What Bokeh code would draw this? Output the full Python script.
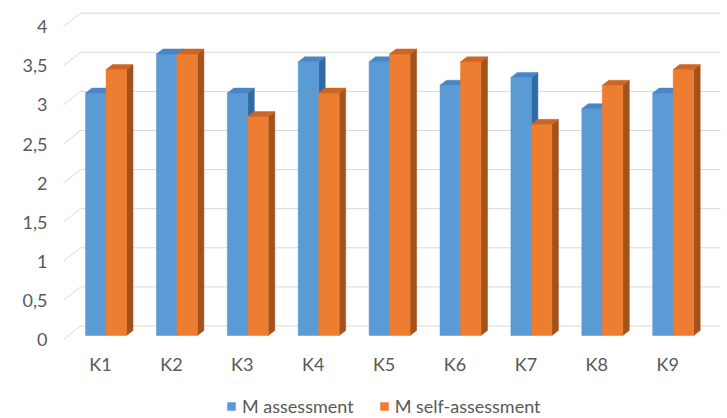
from bokeh.plotting import figure
from bokeh.models import ColumnDataSource, FixedTicker, Legend, LegendItem, Range1d
from bokeh.embed import file_html
from bokeh.resources import INLINE
from bokeh.core.properties import value

# ---- data ----
categories = ["K1", "K2", "K3", "K4", "K5", "K6", "K7", "K8", "K9"]
m_assessment = [3.1, 3.6, 3.1, 3.5, 3.5, 3.2, 3.3, 2.9, 3.1]
m_self_assessment = [3.4, 3.6, 2.8, 3.1, 3.6, 3.5, 2.7, 3.2, 3.4]
series_names = ["M assessment", "M self-assessment"]
y_ticks = [0, 0.5, 1, 1.5, 2, 2.5, 3, 3.5, 4]
y_tick_labels = ["0", "0,5", "1", "1,5", "2", "2,5", "3", "3,5", "4"]

# ---- geometry (pixels converted to data units) ----
W, H = 727, 418
LEFT = 58
PX_X = 70.9
PX_Y = 78.2
BAR_W = 20.5 / PX_X
FACE_DX = 5.5 / PX_X
FACE_DY = 4.0 / PX_Y
DEPTH_DX = 6.5 / PX_X
DEPTH_DY = 5.0 / PX_Y
WALL_DX = 17.0 / PX_X
WALL_DY = 13.5 / PX_Y
WALL_LEFT = -37.0 / PX_X
WALL_RIGHT = 620.0 / PX_X
X_START = -(100.0 - LEFT) / PX_X
X_END = X_START + (W - LEFT) / PX_X
Y_START = -(H - 339.0) / PX_Y
Y_END = Y_START + H / PX_Y
LABEL_Y = -24.0 / PX_Y

TEXT_COLOR = "#595959"
GRID_COLOR = "#D9D9D9"
FONT = "Lato"

colors = [
    {"front": "#5B9BD5", "side": "#2E6AA6", "top": "#4A86C5"},
    {"front": "#ED7D31", "side": "#A3521C", "top": "#CC6624"},
]

p = figure(width=W, height=H, output_backend="svg", toolbar_location=None,
           x_range=Range1d(X_START, X_END), y_range=Range1d(Y_START, Y_END),
           min_border_left=LEFT, min_border_right=0, min_border_top=0, min_border_bottom=0)
p.outline_line_color = None
p.xgrid.visible = False
p.ygrid.visible = False
p.xaxis.visible = False

yax = p.yaxis[0]
yax.ticker = FixedTicker(ticks=y_ticks)
yax.major_label_overrides = {t: l for t, l in zip(y_ticks, y_tick_labels)}
yax.axis_line_color = None
yax.major_tick_line_color = None
yax.minor_tick_line_color = None
yax.major_tick_out = 0
yax.major_tick_in = 0
yax.major_label_standoff = 11
yax.major_label_text_font = FONT
yax.major_label_text_font_size = "18px"
yax.major_label_text_color = TEXT_COLOR

# ---- walls / gridlines ----
back_x0 = [WALL_LEFT + WALL_DX] * len(y_ticks)
back_x1 = [WALL_RIGHT] * len(y_ticks)
back_y = [t + WALL_DY for t in y_ticks]
p.segment(x0=back_x0, y0=back_y, x1=back_x1, y1=back_y, line_color=GRID_COLOR, line_width=1)
side_x0 = [WALL_LEFT] * len(y_ticks)
p.segment(x0=side_x0, y0=y_ticks, x1=back_x0, y1=back_y, line_color=GRID_COLOR, line_width=1)

# ---- 3D bars ----
legend_items = []
for s, vals in enumerate([m_assessment, m_self_assessment]):
    lefts = [i + FACE_DX - BAR_W + s * BAR_W for i in range(len(categories))]
    rights = [l + BAR_W for l in lefts]
    base = FACE_DY
    tops = [v + FACE_DY for v in vals]
    side_xs = [[r, r, r + DEPTH_DX, r + DEPTH_DX] for r in rights]
    side_ys = [[base, t, t + DEPTH_DY, base + DEPTH_DY] for t in tops]
    p.patches(xs=side_xs, ys=side_ys, fill_color=colors[s]["side"],
              line_color=colors[s]["side"], line_width=0.5)
    front = p.quad(left=lefts, right=rights, bottom=[base] * len(vals), top=tops,
                   fill_color=colors[s]["front"], line_color=colors[s]["front"], line_width=0.5)
    top_xs = [[l, r, r + DEPTH_DX, l + DEPTH_DX] for l, r in zip(lefts, rights)]
    top_ys = [[t, t, t + DEPTH_DY, t + DEPTH_DY] for t in tops]
    p.patches(xs=top_xs, ys=top_ys, fill_color=colors[s]["top"],
              line_color=colors[s]["top"], line_width=0.5)
    legend_items.append(LegendItem(label=series_names[s], renderers=[front]))

# ---- category labels ----
src = ColumnDataSource(dict(x=list(range(len(categories))), y=[LABEL_Y] * len(categories),
                            t=categories))
p.text(x="x", y="y", text="t", source=src, text_align="center", text_baseline="middle",
       text_font=value(FONT), text_font_size="18px", text_color=TEXT_COLOR)

legend = Legend(items=legend_items, orientation="horizontal", location=(226 - LEFT, 1),
                padding=0, margin=0, spacing=25, glyph_width=10, glyph_height=10,
                label_standoff=6, label_text_font=FONT, label_text_font_size="18px",
                label_text_color=TEXT_COLOR, border_line_color=None,
                background_fill_alpha=0)
p.add_layout(legend)

open("out.html", "w").write(file_html(p, INLINE))
